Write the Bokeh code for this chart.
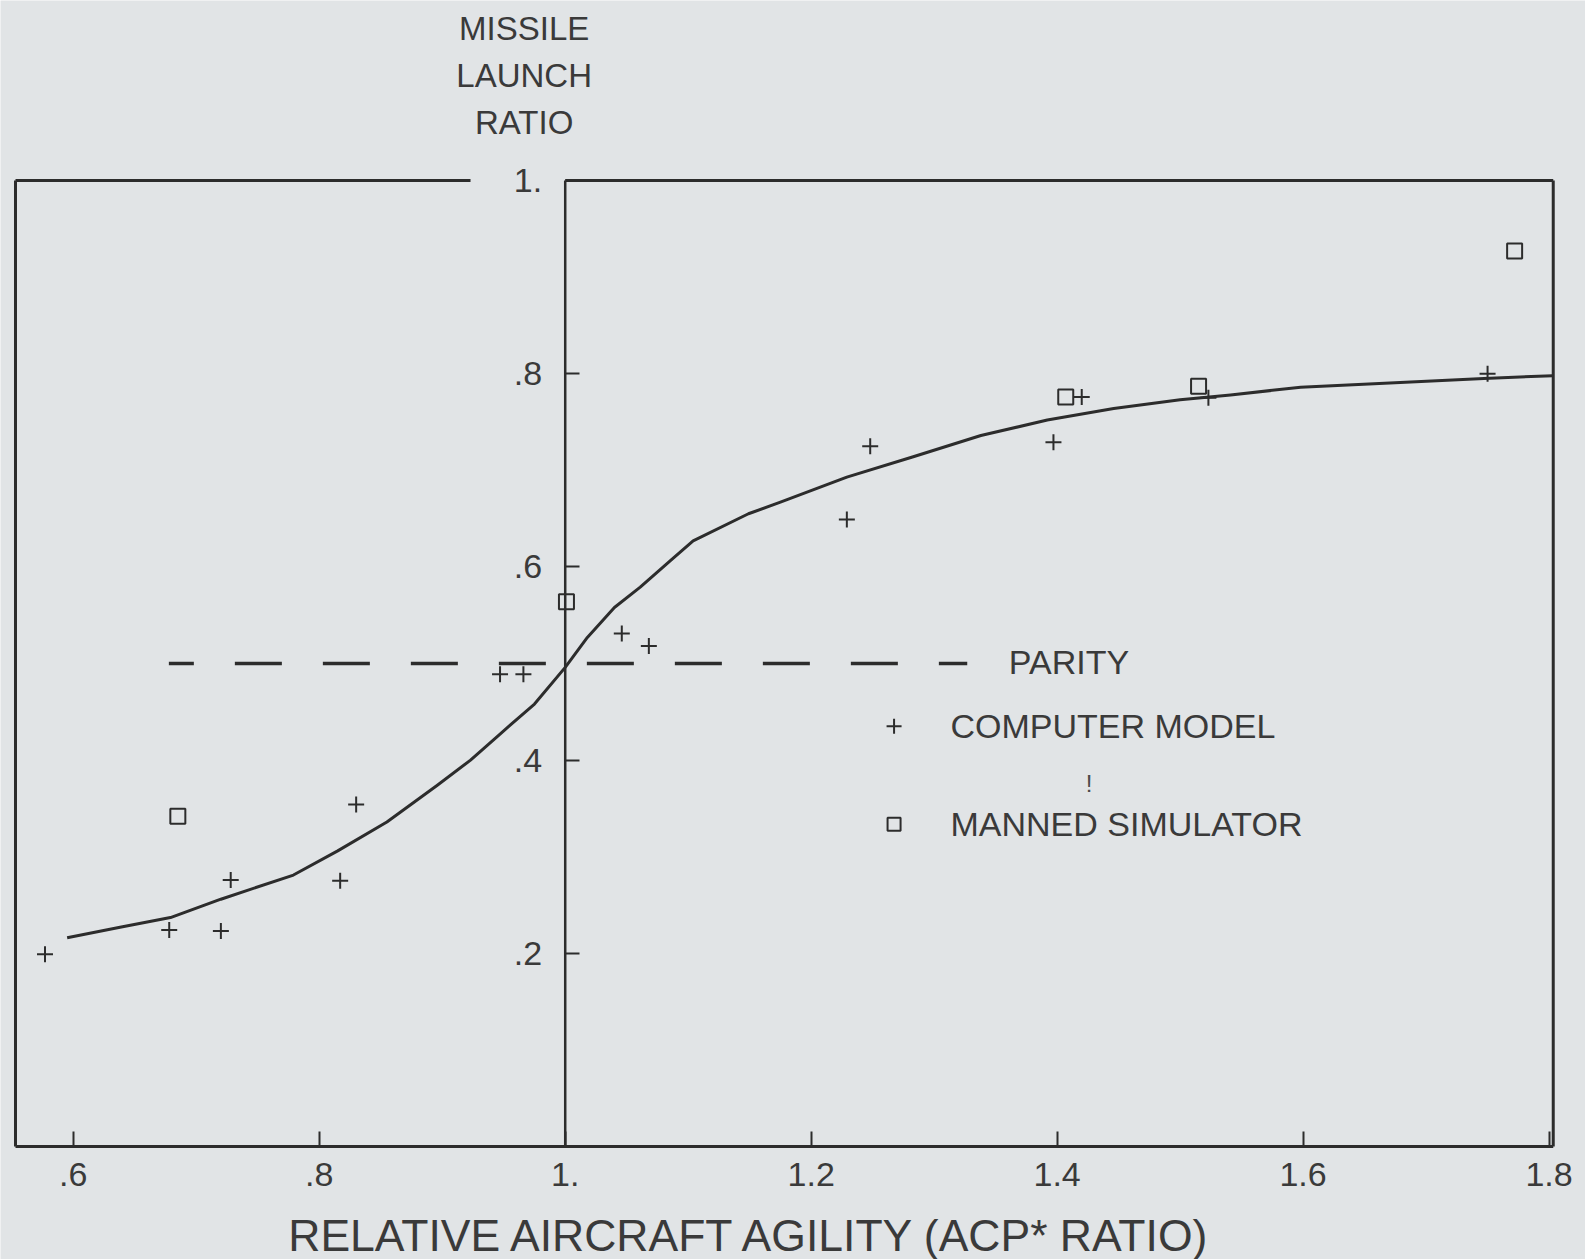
from bokeh.plotting import figure
from bokeh.models import Range1d, FixedTicker, CustomJSTickFormatter, Label
from bokeh.embed import file_html
from bokeh.resources import INLINE

# ---- data ----
x_ticks = [0.6, 0.8, 1.0, 1.2, 1.4, 1.6, 1.8]
x_tick_labels = [".6", ".8", "1.", "1.2", "1.4", "1.6", "1.8"]
y_ticks = [0.2, 0.4, 0.6, 0.8, 1.0]
y_tick_labels = [".2", ".4", ".6", ".8", "1."]

x_title = "RELATIVE AIRCRAFT AGILITY (ACP* RATIO)"
y_title_lines = ["MISSILE", "LAUNCH", "RATIO"]

# fitted curve
curve_x = [0.595, 0.638, 0.679, 0.720, 0.779, 0.815, 0.855, 0.896, 0.923, 0.947,
           0.975, 1.000, 1.018, 1.040, 1.061, 1.086, 1.104, 1.149, 1.175, 1.229,
           1.283, 1.338, 1.392, 1.446, 1.500, 1.541, 1.598, 1.679, 1.747, 1.803]
curve_y = [0.216, 0.227, 0.237, 0.256, 0.281, 0.306, 0.336, 0.374, 0.400, 0.427,
           0.458, 0.496, 0.527, 0.558, 0.579, 0.607, 0.627, 0.655, 0.667, 0.693,
           0.714, 0.736, 0.752, 0.764, 0.773, 0.778, 0.786, 0.791, 0.795, 0.798]

# computer model (+)
cm_x = [0.577, 0.678, 0.720, 0.728, 0.817, 0.830, 0.947, 0.966, 1.046, 1.068,
        1.229, 1.248, 1.397, 1.420, 1.523, 1.750]
cm_y = [0.199, 0.224, 0.223, 0.276, 0.275, 0.354, 0.489, 0.489, 0.531, 0.518,
        0.649, 0.725, 0.729, 0.776, 0.775, 0.800]

# manned simulator (square)
ms_x = [0.685, 1.001, 1.407, 1.515, 1.772]
ms_y = [0.342, 0.564, 0.776, 0.787, 0.927]

# parity line
parity_y = 0.5
parity_x = [0.6777, 1.3269]

legend_labels = ["PARITY", "COMPUTER MODEL", "MANNED SIMULATOR"]

# ---- styling ----
BG = "#e1e4e6"
INK = "#2c2c2c"
TXT = "#3a3a3a"
FONT = "Liberation Sans"

W, H = 1585, 1259
PX_X, PX_Y = 1229.8, 966.0
x0 = 0.6 - 72.8 / PX_X
x1 = x0 + W / PX_X
y1 = 1.0 + 180.0 / PX_Y
y0 = y1 - H / PX_Y

p = figure(width=W, height=H,
           x_range=Range1d(x0, x1), y_range=Range1d(y0, y1),
           min_border=0, min_border_left=0, min_border_right=0,
           min_border_top=0, min_border_bottom=0,
           output_backend="svg", toolbar_location=None)
p.background_fill_color = BG
p.border_fill_color = BG
p.outline_line_color = None
p.xgrid.visible = False
p.ygrid.visible = False

fmt_code = """
const i = vals.findIndex(v => Math.abs(v - tick) < 1e-9);
return i >= 0 ? labs[i] : '';
"""

xa = p.xaxis[0]
xa.fixed_location = 0.0
xa.ticker = FixedTicker(ticks=x_ticks)
xa.formatter = CustomJSTickFormatter(args=dict(vals=x_ticks, labs=x_tick_labels), code=fmt_code)
xa.major_tick_in = 15
xa.major_tick_out = 0
xa.minor_tick_line_color = None
xa.axis_line_color = None
xa.major_tick_line_width = 2
xa.major_tick_line_color = INK
xa.major_label_text_font = FONT
xa.major_label_text_font_size = "34px"
xa.major_label_text_color = TXT
xa.major_label_standoff = 16

ya = p.yaxis[0]
ya.fixed_location = 1.0
ya.ticker = FixedTicker(ticks=y_ticks)
ya.formatter = CustomJSTickFormatter(args=dict(vals=y_ticks, labs=y_tick_labels), code=fmt_code)
ya.major_tick_in = 14
ya.major_tick_out = 0
ya.minor_tick_line_color = None
ya.axis_line_color = None
ya.major_tick_line_width = 2
ya.major_tick_line_color = INK
ya.major_label_text_font = FONT
ya.major_label_text_font_size = "34px"
ya.major_label_text_color = TXT
ya.major_label_standoff = 23

# frame borders (top border has a gap for the "1." label) and the axis lines
bx_l, bx_r, gap_l = 0.553, 1.8034, 0.923
p.segment(x0=[bx_l, bx_r, bx_l, 1.0, bx_l, 1.0],
          y0=[0.0, 0.0, 1.0, 1.0, 0.0, 0.0],
          x1=[bx_l, bx_r, gap_l, bx_r, bx_r, 1.0],
          y1=[1.0, 1.0, 1.0, 1.0, 0.0, 1.0],
          line_color=INK, line_width=[3, 3, 3, 3, 3, 2.5])

# parity dashed line
p.line(x=parity_x, y=[parity_y, parity_y], line_color=INK, line_width=3.5,
       line_dash="47 41", line_dash_offset=22)

# fitted curve
p.line(x=curve_x, y=curve_y, line_color=INK, line_width=3, line_join="round")

# points
p.scatter(x=cm_x, y=cm_y, marker="cross", size=16, line_color=INK, line_width=2)
p.scatter(x=ms_x, y=ms_y, marker="square", size=15, line_color=INK, line_width=2,
          fill_color=None)

# legend
p.scatter(x=[1.2674], y=[0.435], marker="cross", size=15, line_color=INK, line_width=2)
p.scatter(x=[1.2674], y=[0.3335], marker="square", size=13, line_color=INK,
          line_width=2, fill_color=None)
for lx, ly, t in zip([1.3607, 1.3133, 1.3133], [0.502, 0.435, 0.3335], legend_labels):
    p.add_layout(Label(x=lx, y=ly, text=t, text_align="left", text_baseline="middle",
                       text_font=FONT, text_font_size="34px", text_color=TXT))
p.add_layout(Label(x=1.426, y=0.3754, text="!", text_align="center", text_baseline="middle",
                   text_font=FONT, text_font_size="24px", text_color="#4a4a4a"))

# y title above the axis
for ly, t in zip([1.157, 1.1089, 1.0597], y_title_lines):
    p.add_layout(Label(x=0.9666, y=ly, text=t, text_align="center", text_baseline="middle",
                       text_font=FONT, text_font_size="33px", text_color=TXT))

# x title
p.add_layout(Label(x=1.1511, y=-0.0921, text=x_title, text_align="center",
                   text_baseline="middle", text_font=FONT, text_font_size="44.5px",
                   text_color=TXT))

open("out.html", "w").write(file_html(p, INLINE))
